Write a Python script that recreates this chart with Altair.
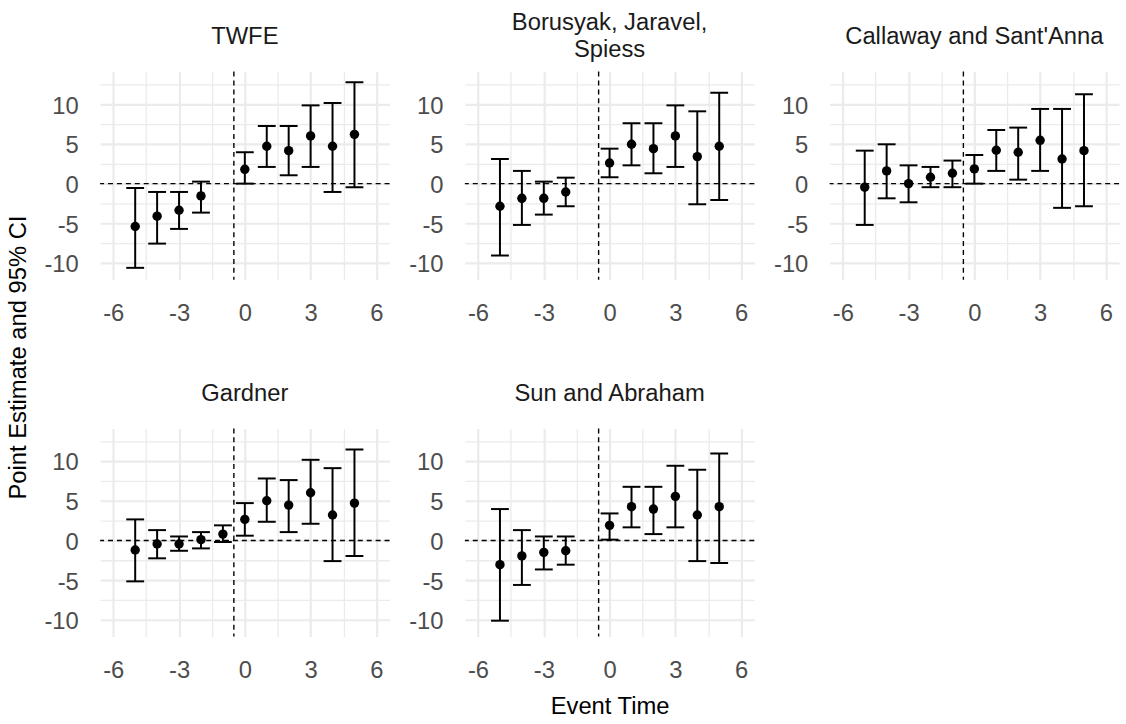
import altair as alt
import pandas as pd

# ---------------- data ----------------
panel_names = ["TWFE", "Borusyak, Jaravel, Spiess", "Callaway and Sant'Anna",
               "Gardner", "Sun and Abraham"]
panel_title_lines = [["TWFE"], ["Borusyak, Jaravel,", "Spiess"],
                     ["Callaway and Sant'Anna"], ["Gardner"], ["Sun and Abraham"]]

twfe_time = [-5, -4, -3, -2, 0, 1, 2, 3, 4, 5]
twfe_est = [-5.4, -4.1, -3.35, -1.55, 1.8, 4.7, 4.15, 6.0, 4.7, 6.2]
twfe_lo = [-10.6, -7.55, -5.7, -3.65, 0.0, 2.1, 1.05, 2.1, -1.05, -0.45]
twfe_hi = [-0.55, -1.05, -1.05, 0.25, 3.95, 7.25, 7.25, 9.85, 10.15, 12.75]

bjs_time = [-5, -4, -3, -2, 0, 1, 2, 3, 4, 5]
bjs_est = [-2.85, -1.85, -1.85, -1.05, 2.6, 4.95, 4.4, 6.0, 3.4, 4.7]
bjs_lo = [-9.05, -5.2, -3.9, -2.85, 0.8, 2.3, 1.3, 2.1, -2.6, -2.05]
bjs_hi = [3.1, 1.6, 0.25, 0.75, 4.4, 7.6, 7.6, 9.85, 9.1, 11.45]

cs_time = [-5, -4, -3, -2, -1, 0, 1, 2, 3, 4, 5]
cs_est = [-0.45, 1.6, 0.0, 0.8, 1.3, 1.85, 4.2, 3.95, 5.45, 3.1, 4.15]
cs_lo = [-5.2, -1.85, -2.35, -0.45, -0.45, 0.0, 1.6, 0.5, 1.6, -3.05, -2.85]
cs_hi = [4.15, 4.95, 2.3, 2.1, 2.9, 3.6, 6.75, 7.05, 9.4, 9.4, 11.25]

gard_time = [-5, -4, -3, -2, -1, 0, 1, 2, 3, 4, 5]
gard_est = [-1.2, -0.45, -0.45, 0.1, 0.8, 2.65, 5.0, 4.45, 6.0, 3.2, 4.7]
gard_lo = [-5.15, -2.25, -1.3, -1.0, -0.2, 0.6, 2.35, 1.05, 2.1, -2.6, -1.95]
gard_hi = [2.65, 1.3, 0.5, 1.05, 1.9, 4.7, 7.8, 7.6, 10.15, 9.1, 11.45]

sa_time = [-5, -4, -3, -2, 0, 1, 2, 3, 4, 5]
sa_est = [-3.05, -1.95, -1.5, -1.3, 1.9, 4.25, 3.95, 5.55, 3.2, 4.25]
sa_lo = [-10.1, -5.6, -3.65, -3.05, 0.1, 1.65, 0.8, 1.65, -2.6, -2.85]
sa_hi = [3.95, 1.3, 0.5, 0.5, 3.4, 6.75, 6.75, 9.4, 8.9, 10.95]

zero_line = [0.0]        # horizontal reference line
treat_line = [-0.5]      # vertical reference line

x_ticks = [-6, -4.5, -3, -1.5, 0, 1.5, 3, 4.5, 6]
y_ticks = [-10, -7.5, -5, -2.5, 0, 2.5, 5, 7.5, 10, 12.5]
x_domain = [-6.6, 6.6]
y_domain = [-12.1, 14.1]

series = [
    (twfe_time, twfe_est, twfe_lo, twfe_hi),
    (bjs_time, bjs_est, bjs_lo, bjs_hi),
    (cs_time, cs_est, cs_lo, cs_hi),
    (gard_time, gard_est, gard_lo, gard_hi),
    (sa_time, sa_est, sa_lo, sa_hi),
]

# ---------------- styling ----------------
FONT = "Liberation Sans"
FS = 24
PANEL_W = 292
PANEL_H = 210
GRID = "#EBEBEB"
title_offsets = [22, 9, 22, 22, 22]


def panel(idx):
    t, e, lo, hi = series[idx]
    df = pd.DataFrame({"time": t, "est": e, "lo": lo, "hi": hi})

    x_axis_kw = dict(
        values=x_ticks, labelExpr="datum.value % 3 === 0 ? '' + datum.value : ''",
        grid=True, gridColor=GRID,
        gridWidth={"condition": {"test": "datum.value % 3 === 0", "value": 2.2}, "value": 1.3},
        ticks=False, tickSize=0, domain=False, labelPadding=22,
        labelFontSize=FS, labelColor="#4D4D4D", labelFont=FONT,
        labelFlush=False, labelOverlap=False,
    )
    y_axis_kw = dict(
        values=y_ticks, labelExpr="datum.value % 5 === 0 ? '' + datum.value : ''",
        grid=True, gridColor=GRID,
        gridWidth={"condition": {"test": "datum.value % 5 === 0", "value": 2.2}, "value": 1.3},
        ticks=False, tickSize=0, domain=False, labelPadding=22,
        labelFontSize=FS, labelColor="#4D4D4D", labelFont=FONT,
        labelFlush=False, labelOverlap=False, labelBaseline="middle", labelOffset=2,
    )
    x_title = None
    y_title = None
    if idx == 4:
        x_title = "Event Time"
        x_axis_kw.update(titleFontSize=FS, titleFont=FONT, titleColor="#000000",
                         titleFontWeight="normal", titleBaseline="alphabetic", titleY=78)
    if idx == 0:
        y_title = "Point Estimate and 95% CI"
        y_axis_kw.update(titleFontSize=FS, titleFont=FONT, titleColor="#000000",
                         titleFontWeight="normal", titleAngle=270, titleAlign="center",
                         titleBaseline="middle", titleX=-82, titleY=288)

    xs = alt.Scale(domain=x_domain, nice=False, zero=False)
    ys = alt.Scale(domain=y_domain, nice=False, zero=False)

    def X(field):
        return alt.X(field, type="quantitative", scale=xs, axis=alt.Axis(**x_axis_kw), title=x_title)

    def Y(field):
        return alt.Y(field, type="quantitative", scale=ys, axis=alt.Axis(**y_axis_kw), title=y_title)

    base = alt.Chart(df)
    hline = alt.Chart(pd.DataFrame({"v": zero_line})).mark_rule(
        color="black", strokeWidth=1.4, strokeDash=[5, 4]).encode(y=Y("v"))
    vline = alt.Chart(pd.DataFrame({"v": treat_line})).mark_rule(
        color="black", strokeWidth=1.4, strokeDash=[5, 4]).encode(x=X("v"))
    bars = base.mark_rule(color="black", strokeWidth=2).encode(
        x=X("time"), y=Y("lo"), y2="hi:Q")
    cap_lo = base.mark_tick(orient="horizontal", size=18, thickness=2,
                            color="black", opacity=1).encode(x=X("time"), y=Y("lo"))
    cap_hi = base.mark_tick(orient="horizontal", size=18, thickness=2,
                            color="black", opacity=1).encode(x=X("time"), y=Y("hi"))
    pts = base.mark_circle(size=90, color="black", opacity=1).encode(
        x=X("time"), y=Y("est"))

    lines = panel_title_lines[idx]
    title = alt.TitleParams(
        text=lines if len(lines) > 1 else lines[0],
        font=FONT, fontSize=FS, fontWeight="normal", color="#1A1A1A",
        anchor="middle", frame="group", offset=title_offsets[idx], lineHeight=27,
    )
    return alt.layer(hline, vline, bars, cap_lo, cap_hi, pts).properties(
        width=PANEL_W, height=PANEL_H, title=title)


chart = alt.concat(
    *[panel(i) for i in range(5)],
    columns=3,
    spacing={"row": 150, "column": 76},
    bounds="flush",
).properties(
    padding={"left": 6, "top": 7, "right": 5, "bottom": 5},
    background="white",
).configure_view(stroke="transparent")

chart.save("out.html", embed_options={"renderer": "svg", "actions": False})
